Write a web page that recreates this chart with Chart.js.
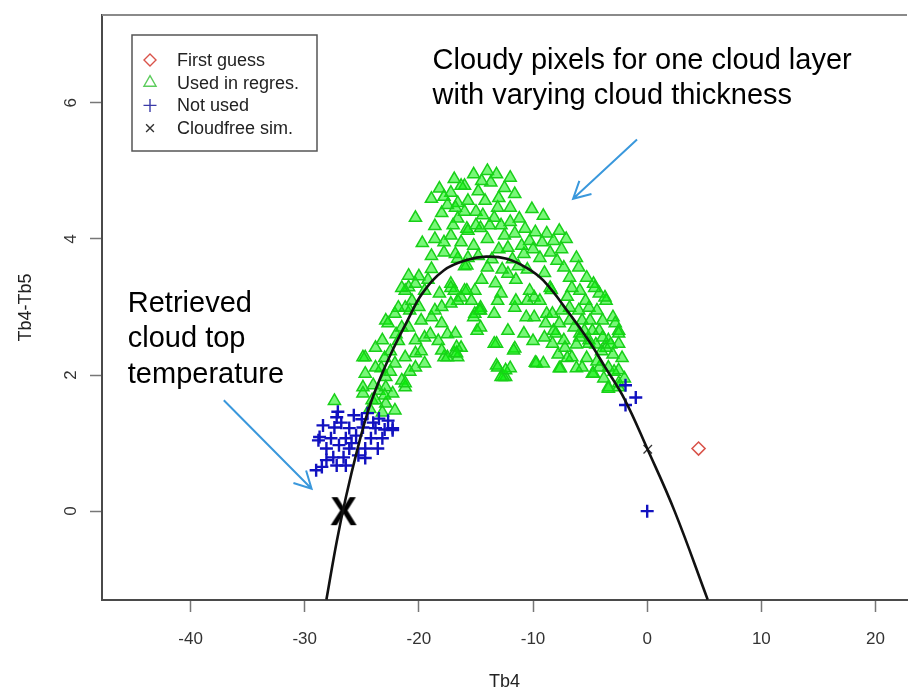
<!DOCTYPE html>
<html>
<head>
<meta charset="utf-8">
<script src="https://cdn.jsdelivr.net/npm/chart.js@4.4.1/dist/chart.umd.min.js"></script>
<style>
  html, body { margin: 0; padding: 0; background: #fff; overflow: hidden; }
  canvas { display: block; }
</style>
</head>
<body>
<canvas id="chart" width="922" height="693"></canvas>
<script>
// tick values
const xTicks = [-40, -30, -20, -10, 0, 10, 20];
const yTicks = [0, 2, 4, 6];

// single points
const firstGuess = [[4.5, 0.92]];
const cloudfreeSim = [[0.05, 0.91]];
const retrieved = [[-26.6, 0.0]];

// cloudy pixels used in the regression (Tb4, Tb4-Tb5)
const usedInRegres = [
  [-20.3,4.31],[-18.2,4.74],[-17.2,4.68],[-16.0,4.78],[-18.9,4.59],[-16.6,4.53],[-18.0,4.38],[-16.6,4.30],
  [-18.6,4.19],[-19.7,3.94],[-18.6,4.00],[-17.2,4.05],[-15.8,4.15],[-18.9,3.75],[-17.8,3.80],[-18.9,3.56],
  [-20.9,3.46],[-16.6,3.71],[-15.8,3.61],[-20.9,3.29],[-21.2,2.99],
  [-14.0,5.00],[-16.3,4.78],[-13.7,4.83],[-12.5,4.75],[-11.6,4.66],[-15.7,4.56],[-14.2,4.56],[-16.8,4.46],
  [-13.1,4.46],[-12.0,4.46],[-10.1,4.44],[-9.1,4.34],[-14.6,4.16],[-13.4,4.31],[-15.7,4.12],[-7.7,4.12],
  [-8.8,4.08],[-8.2,3.97],[-7.1,4.00],[-10.3,3.97],[-11.6,4.08],[-12.2,3.87],[-10.8,3.78],[-9.4,3.72],
  [-7.9,3.68],[-6.2,3.72],[-7.3,3.58],[-6.0,3.58],[-6.8,3.43],[-5.3,3.43],[-4.7,3.34],[-4.2,3.20],
  [-5.9,3.24],[-3.6,3.09],[-3.0,2.85],[-2.5,2.65],[-3.9,2.80],[-5.1,2.99],[-17.2,3.34],[-16.3,3.14],
  [-15.1,3.24],[-14.6,2.99],[-13.1,3.09],[-13.4,2.90],[-11.6,2.99],[-10.5,3.09],[-9.9,2.85],[-8.8,2.90],
  [-8.2,2.65],[-10.8,2.61],[-12.2,2.65],[-15.1,2.90],[-16.8,2.61],[-6.8,2.80],[-5.9,2.61],[-7.3,2.51],
  [-5.1,2.51],[-3.6,2.40],[-2.5,2.46],[-9.9,3.14],[-12.2,3.49],[-14.0,3.58],[-15.7,3.72],[-16.8,3.78],
  [-14.6,2.95],[-14.6,2.70],[-13.2,2.46],[-11.6,2.39],[-13.2,2.14],[-12.0,2.10],[-12.4,1.97],[-9.8,2.18],
  [-9.1,2.17],[-7.6,2.10],[-8.3,2.46],[-7.2,2.40],[-6.6,2.26],[-5.7,2.11],[-4.8,2.02],[-4.2,2.11],
  [-3.4,2.11],[-2.5,2.07],[-3.4,1.82],[-2.5,1.82],[-10.6,2.85],[-8.9,2.76],[-7.7,2.76],[-8.0,2.61],
  [-5.9,2.55],[-5.1,2.46],[-3.4,2.51],[-2.8,2.76],[-2.5,2.61],[-4.2,2.65],[-5.7,2.80],[-4.6,3.28],
  [-3.7,3.14],[-5.4,3.09],[-6.8,2.99],[-8.3,2.90],[-9.4,3.09],[-11.5,3.09],[-12.8,3.20],[-10.3,3.24],
  [-6.6,3.28],[-8.5,3.28],
  [-27.4,1.62],[-24.7,2.26],[-23.8,2.40],[-23.2,2.51],[-22.9,2.80],[-22.1,2.90],[-22.7,2.76],[-21.8,2.99],
  [-21.2,3.24],[-20.6,3.09],[-20.9,2.70],[-20.3,2.51],[-19.5,2.55],[-20.3,2.32],[-19.5,2.17],[-21.2,2.26],
  [-22.1,2.17],[-21.5,1.92],[-21.2,1.82],[-22.9,1.97],[-23.8,2.11],[-24.7,2.02],[-24.9,1.82],[-23.5,1.77],
  [-22.3,1.73],[-24.1,1.63],[-22.9,1.58],[-18.9,2.85],[-18.6,2.95],[-18.0,2.76],[-17.8,2.26],[-16.9,2.32],
  [-16.3,2.40],[-17.2,3.28],[-16.0,3.24],[-16.6,3.09],[-15.4,3.09],[-21.5,3.28],[-20.3,3.34],[-19.5,3.24],
  [-24.9,2.26],[-21.2,1.88],[-20.3,2.11],[-18.0,2.36],[-17.5,2.26],[-16.6,2.26],[-16.7,2.41],[-17.2,3.05],
  [-16.9,3.24],[-15.8,3.24],[-14.7,2.95],[-13.4,2.46],[-11.7,2.36],[-12.6,1.97],[-15.2,2.85],[-14.9,2.65],
  [-24.9,1.73],[-22.9,1.82],[-23.8,1.63],[-22.1,1.48],[-24.3,1.50],[-23.2,1.45],
  [-16.7,2.32],[-13.1,2.11],[-12.4,2.07],[-12.8,1.97],[-9.7,2.17],[-7.7,2.10],[-3.4,1.80],[-2.5,1.88],
  [-4.7,2.02],
  [-17.5,4.50],[-15.0,4.40],[-14.8,4.70],[-13.0,4.60],[-12.8,4.20],[-14.0,4.00],[-15.2,3.90],[-16.3,3.95],
  [-13.0,3.85],[-11.2,4.30],[-11.0,3.90],[-9.8,4.10],[-14.5,3.40],[-13.3,3.35],[-11.8,3.70],[-11.5,3.40],
  [-10.5,3.55],[-9.0,3.50],[-8.4,3.25],[-4.0,2.35],[-3.0,2.30],[-6.2,2.45],[-5.0,2.80],[-4.4,2.95],
  [-7.0,3.15],[-19.8,2.80],[-20.0,3.00],[-21.8,2.50],[-22.5,2.35],[-23.3,2.10],
  [-17.8,4.62],[-16.9,4.88],[-15.2,4.95],[-14.5,4.85],[-13.2,4.95],[-12.0,4.90],[-17.0,4.20],[-15.0,4.20],
  [-13.8,4.20],[-12.5,4.05],[-16.0,4.40],[-14.4,4.35],[-12.0,4.25],[-10.7,4.15],[-17.8,3.95],[-16.0,3.60],
  [-14.8,3.75],[-13.6,3.70],[-12.7,3.55],[-10.0,3.85],[-8.5,3.80],[-7.5,3.85],[-9.2,3.95],[-11.3,3.60],
  [-23.0,2.25],[-22.0,2.60],[-21.5,2.70],[-20.8,2.95],[-20.0,3.45],[-19.2,3.40],[-18.2,3.20],[-18.0,3.00],
  [-19.0,2.60],[-19.8,2.35],[-20.8,2.05],[-22.5,2.05],[-23.0,1.70],[-24.0,1.85],[-17.5,2.60],[-18.3,2.50],
  [-6.0,2.95],[-4.8,2.65],[-3.9,2.55],[-3.2,2.45],[-2.9,2.05],[-3.8,1.95],[-4.4,2.20],[-5.3,2.25],
  [-6.2,2.10],[-7.0,2.25],[-7.8,2.30],[-2.2,2.25],[-2.0,1.95],[-4.5,2.45],[-5.5,2.65],[-6.4,2.70],
  [-7.5,2.95],[-9.0,2.55],[-10.0,2.50]
];

// cloudy pixels not used
const notUsed = [
  [-27.1,1.46],[-25.7,1.41],[-24.5,1.44],[-23.5,1.36],[-22.7,1.33],[-28.4,1.26],[-27.4,1.23],[-26.1,1.22],
  [-24.9,1.23],[-23.8,1.22],[-22.3,1.22],[-28.7,1.09],[-27.7,1.07],[-26.4,1.07],[-25.5,1.11],[-24.2,1.07],
  [-23.2,1.07],[-28.1,0.92],[-27.0,0.97],[-26.1,0.92],[-24.7,0.92],[-23.6,0.92],[-27.5,0.79],[-26.6,0.79],
  [-25.3,0.82],[-24.7,0.78],[-28.5,0.65],[-27.2,0.67],[-26.4,0.67],[-28.1,0.75],[-29.0,0.60],[-28.8,1.04],
  [-27.2,1.38],[-22.3,1.19],[-25.0,1.35],[-26.8,1.30],[-25.9,1.00],[-24.0,1.30],[-23.0,1.20],
  [-1.9,1.85],[-1.0,1.67],[-1.9,1.56],[0.0,0.0]
];

// fitted curve
const curveX = [-28.1, -27.2, -26.4, -25.4, -24.4, -23.4, -22.2, -21.0, -19.7, -17.8, -15.8, -14.1,
                -12.3, -10.6, -9.1, -6.8, -5.1, -3.7, -2.0, 0.0, 2.4, 5.3];
const curveY = [-1.3, -0.45, 0.2, 0.9, 1.5, 1.95, 2.4, 2.8, 3.2, 3.54, 3.69, 3.74,
                3.71, 3.58, 3.39, 2.9, 2.5, 2.12, 1.65, 0.92, 0.0, -1.3];

// annotations, anchored in data units
const noteTexts = [
  { lines: ['Cloudy pixels for one cloud layer', 'with varying cloud thickness'], x: -18.8, y: 6.50 },
  { lines: ['Retrieved', 'cloud top', 'temperature'], x: -45.5, y: 2.93 }
];
const noteArrows = [
  { from: [-0.89, 5.46], to: [-6.49, 4.59] },
  { from: [-37.09, 1.63], to: [-29.40, 0.33] }
];

const FONT = '"Liberation Sans", Arial, Helvetica, sans-serif';
Chart.defaults.font.family = FONT;

const toXY = arr => arr.map(p => ({ x: p[0], y: p[1] }));

function glyphCanvas(ch, px) {
  const size = Math.ceil(px * 1.1);
  const c = document.createElement('canvas');
  c.width = size;
  c.height = size;
  const g = c.getContext('2d');
  g.font = 'bold ' + px + 'px ' + FONT;
  g.textAlign = 'center';
  g.textBaseline = 'alphabetic';
  g.fillStyle = '#000';
  g.fillText(ch, size / 2, size / 2 + px * 0.358);
  return c;
}

function drawSymbol(ctx, style, x, y, r, color, lw) {
  ctx.save();
  ctx.strokeStyle = color;
  ctx.lineWidth = lw;
  ctx.beginPath();
  if (style === 'rectRot') {
    ctx.moveTo(x, y - r); ctx.lineTo(x + r, y); ctx.lineTo(x, y + r); ctx.lineTo(x - r, y); ctx.closePath();
  } else if (style === 'triangle') {
    const h = r * Math.sqrt(3) / 2;
    ctx.moveTo(x, y - r); ctx.lineTo(x + h, y + r / 2); ctx.lineTo(x - h, y + r / 2); ctx.closePath();
  } else if (style === 'cross') {
    ctx.moveTo(x - r, y); ctx.lineTo(x + r, y); ctx.moveTo(x, y - r); ctx.lineTo(x, y + r);
  } else {
    const d = r * Math.SQRT1_2;
    ctx.moveTo(x - d, y - d); ctx.lineTo(x + d, y + d); ctx.moveTo(x + d, y - d); ctx.lineTo(x - d, y + d);
  }
  ctx.stroke();
  ctx.restore();
}

const framePlugin = {
  id: 'frame',
  afterDraw(chart) {
    const { ctx, chartArea } = chart;
    ctx.save();
    ctx.strokeStyle = '#8a8a8a';
    ctx.lineWidth = 2;
    ctx.beginPath();
    ctx.moveTo(chartArea.left, chartArea.top);
    ctx.lineTo(chartArea.right, chartArea.top);
    ctx.stroke();

    // y tick labels, rotated like R's default
    const ys = chart.scales.y;
    ctx.font = '17px ' + FONT;
    ctx.fillStyle = '#333';
    ctx.textAlign = 'center';
    ctx.textBaseline = 'middle';
    ys.ticks.forEach(t => {
      ctx.save();
      ctx.translate(chartArea.left - 31, ys.getPixelForValue(t.value));
      ctx.rotate(-Math.PI / 2);
      ctx.fillText(String(t.value), 0, 0);
      ctx.restore();
    });
    ctx.restore();
  }
};

const legendPlugin = {
  id: 'boxLegend',
  afterDraw(chart) {
    const { ctx, chartArea } = chart;
    const items = chart.data.datasets.filter(d => d.legendOrder !== undefined)
      .sort((a, b) => a.legendOrder - b.legendOrder);
    const x0 = chartArea.left + 30, y0 = chartArea.top + 20;
    const w = 185, h = 116, rowH = 22.7;
    ctx.save();
    ctx.fillStyle = '#fff';
    ctx.fillRect(x0, y0, w, h);
    ctx.strokeStyle = '#555';
    ctx.lineWidth = 1.5;
    ctx.strokeRect(x0, y0, w, h);
    ctx.font = '18px ' + FONT;
    ctx.fillStyle = '#222';
    ctx.textBaseline = 'middle';
    items.forEach((d, i) => {
      const cy = y0 + 25 + i * rowH;
      drawSymbol(ctx, d.pointStyle, x0 + 18, cy, d.legendRadius, d.legendColor, 1.4);
      ctx.fillText(d.label, x0 + 45, cy + 1);
    });
    ctx.restore();
  }
};

const notesPlugin = {
  id: 'notes',
  afterDraw(chart) {
    const { ctx } = chart;
    const xs = chart.scales.x, ys = chart.scales.y;
    ctx.save();
    ctx.font = '29px ' + FONT;
    ctx.fillStyle = '#000';
    ctx.textBaseline = 'alphabetic';
    noteTexts.forEach(n => {
      const px = xs.getPixelForValue(n.x), py = ys.getPixelForValue(n.y);
      n.lines.forEach((t, i) => ctx.fillText(t, px, py + i * 35.5));
    });
    ctx.strokeStyle = '#3a98dc';
    ctx.lineWidth = 2;
    noteArrows.forEach(a => {
      const x1 = xs.getPixelForValue(a.from[0]), y1 = ys.getPixelForValue(a.from[1]);
      const x2 = xs.getPixelForValue(a.to[0]), y2 = ys.getPixelForValue(a.to[1]);
      const ang = Math.atan2(y1 - y2, x1 - x2);
      const len = 19, spread = 28 * Math.PI / 180;
      ctx.beginPath();
      ctx.moveTo(x1, y1);
      ctx.lineTo(x2, y2);
      ctx.moveTo(x2 + len * Math.cos(ang + spread), y2 + len * Math.sin(ang + spread));
      ctx.lineTo(x2, y2);
      ctx.lineTo(x2 + len * Math.cos(ang - spread), y2 + len * Math.sin(ang - spread));
      ctx.stroke();
    });
    ctx.restore();
  }
};

new Chart(document.getElementById('chart'), {
  type: 'scatter',
  data: {
    datasets: [
      {
        label: 'curve',
        data: curveX.map((x, i) => ({ x: x, y: curveY[i] })),
        showLine: true,
        tension: 0.4,
        borderColor: '#111',
        borderWidth: 2.6,
        pointRadius: 0
      },
      {
        label: 'Retrieved cloud top temperature',
        data: toXY(retrieved),
        pointStyle: glyphCanvas('X', 40),
        pointRadius: 14
      },
      {
        label: 'Cloudfree sim.',
        data: toXY(cloudfreeSim),
        pointStyle: 'crossRot',
        pointRadius: 6,
        borderColor: '#333',
        borderWidth: 1.3,
        legendOrder: 3, legendRadius: 5.5, legendColor: '#333'
      },
      {
        label: 'Not used',
        data: toXY(notUsed),
        pointStyle: 'cross',
        pointRadius: 6.5,
        borderColor: '#1212c0',
        borderWidth: 2.4,
        legendOrder: 2, legendRadius: 6.5, legendColor: '#3a3aa8'
      },
      {
        label: 'First guess',
        data: toXY(firstGuess),
        pointStyle: 'rectRot',
        pointRadius: 6.5,
        borderColor: '#d9534a',
        backgroundColor: 'rgba(255,255,255,0)',
        borderWidth: 1.6,
        legendOrder: 0, legendRadius: 6, legendColor: '#d9534a'
      },
      {
        label: 'Used in regres.',
        data: toXY(usedInRegres),
        pointStyle: 'triangle',
        pointRadius: 7,
        borderColor: '#18d018',
        backgroundColor: 'rgba(10,240,10,0.55)',
        borderWidth: 1.5,
        legendOrder: 1, legendRadius: 7, legendColor: '#5ccc5c'
      }
    ]
  },
  options: {
    responsive: false,
    devicePixelRatio: 1,
    animation: false,
    layout: { padding: { top: 13, right: 2, left: 0, bottom: 0 } },
    plugins: { legend: { display: false }, tooltip: { enabled: false } },
    scales: {
      x: {
        type: 'linear',
        min: -47.76,
        max: 22.76,
        afterBuildTicks: s => { s.ticks = xTicks.map(v => ({ value: v })); },
        afterFit: s => { s.height = 93; },
        ticks: { font: { size: 17 }, color: '#333', padding: 17, maxRotation: 0, callback: v => String(v) },
        grid: { drawOnChartArea: false, drawTicks: true, tickLength: 12, tickColor: '#777', tickWidth: 1.5 },
        border: { color: '#4a4a4a', width: 2 },
        title: { display: true, text: 'Tb4', font: { size: 18 }, color: '#222', padding: { top: 0, bottom: 0 } }
      },
      y: {
        type: 'linear',
        min: -1.306,
        max: 7.291,
        afterBuildTicks: s => { s.ticks = yTicks.map(v => ({ value: v })); },
        afterFit: s => { s.width = 102; },
        ticks: { display: false },
        grid: { drawOnChartArea: false, drawTicks: true, tickLength: 12, tickColor: '#777', tickWidth: 1.5 },
        border: { color: '#4a4a4a', width: 2 },
        title: { display: true, text: 'Tb4-Tb5', font: { size: 18 }, color: '#222', padding: { top: 15, bottom: 0 } }
      }
    }
  },
  plugins: [framePlugin, legendPlugin, notesPlugin]
});
</script>
</body>
</html>
